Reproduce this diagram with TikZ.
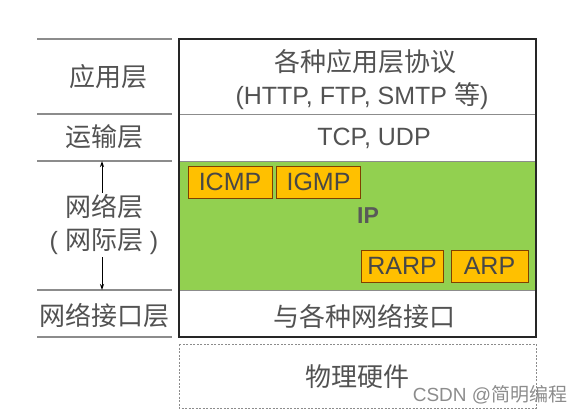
\documentclass[tikz,border=0pt]{standalone}
\usepackage{fontspec}
\usetikzlibrary{arrows.meta}
\setmainfont{Liberation Sans}
\newfontfamily\cjk{Noto Sans CJK SC}
\begin{document}
\begin{tikzpicture}[x=1pt,y=-1pt,
  txt/.style={text=black!68, font=\fontsize{25}{30}\selectfont, inner sep=0pt},
  ctxt/.style={text=black!68, font=\fontsize{26}{30}\selectfont\cjk, inner sep=0pt},
  sepline/.style={draw=black!45, line width=1.4pt},
  protobox/.style={draw=black!50!orange, line width=0.8pt, minimum width=#1, minimum height=32pt, inner sep=0pt, text=black!72, font=\fontsize{25}{30}\selectfont},
  arr/.style={-{Stealth[length=6pt,width=4pt]}, line width=1pt, black}
]
\useasboundingbox (0,0) rectangle (580,416);
\definecolor{lgreen}{HTML}{92D050}
\definecolor{orng}{HTML}{FFC000}
% green region
\fill[lgreen] (179,161) rectangle (536,290);
% inner separators
\draw[sepline, line width=1pt] (179,114) -- (536,114);
\draw[sepline, line width=1pt] (179,161) -- (536,161);
\draw[sepline, line width=1pt] (179,290) -- (536,290);
% main box
\draw[line width=1.6pt, black!85] (179,39) rectangle (536,337);
% dashed physical
\draw[black!45, line width=1pt, dash pattern=on 2pt off 1.5pt] (179,344) rectangle (536,408);
% left lines
\foreach \yy in {39,114,161,290,337} \draw[sepline] (37,\yy) -- (172,\yy);
% protocol boxes
\node[protobox=84pt, fill=orng] (icmp) at (230,182) {ICMP};
\node[protobox=84pt, fill=orng] (igmp) at (318.5,182) {IGMP};
\node[protobox=82pt, fill=orng] (rarp) at (402,266) {RARP};
\node[protobox=77pt, fill=orng] (arp) at (489.5,266) {ARP};
\node[txt, font=\fontsize{23}{26}\selectfont\bfseries, text=black!65] (ip) at (368,216) {IP};
% right texts
\node[ctxt] (app1) at (365,62) {各种应用层协议};
\node[txt] (app2) at (362,96) {(HTTP, FTP, SMTP {\cjk\fontsize{26}{30}\selectfont 等})};
\node[txt] (tcp) at (374,138) {TCP, UDP};
\node[ctxt] (nif) at (364,316) {与各种网络接口};
\node[ctxt] (phy) at (357,377) {物理硬件};
% left texts
\node[ctxt] (lapp) at (108,77) {应用层};
\node[ctxt] (ltr) at (104,137) {运输层};
\node[ctxt] (lnet) at (104,207) {网络层};
\node[txt] (lnet2) at (104,242) {( {\cjk\fontsize{26}{30}\selectfont 网际层} )};
\node[ctxt] (lnif) at (104,316) {网络接口层};
% arrows
\coordinate (up) at (102,161);
\coordinate (dn) at (102,290);
\draw[arr] (lnet.north -| up) ++(0,-2) -- (up);
\draw[arr] (lnet2.south -| dn) ++(0,2) -- (dn);
% watermark
\node[txt, font=\fontsize{19}{22}\selectfont, text=black!45] (wm) at (490,395) {CSDN @{\cjk 简明编程}};
\end{tikzpicture}
\end{document}
